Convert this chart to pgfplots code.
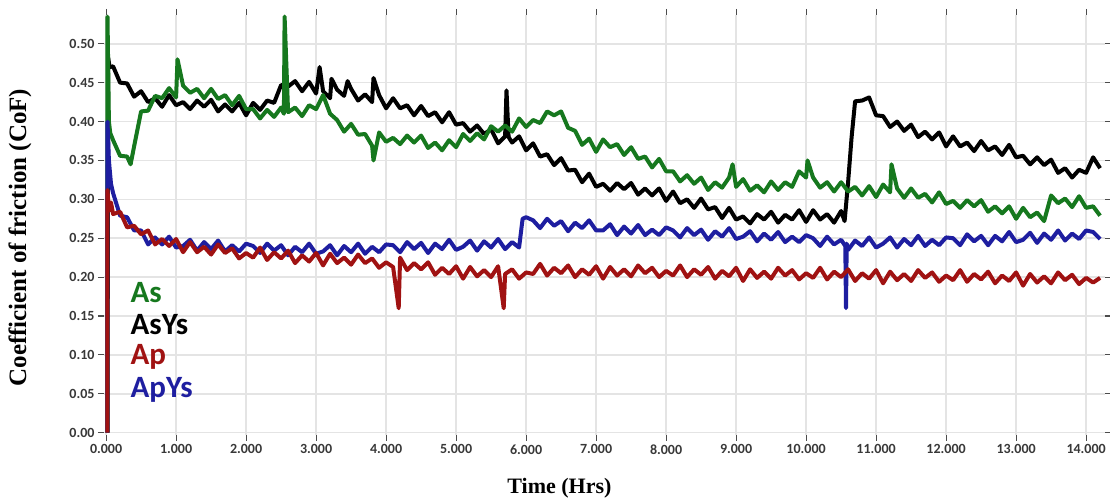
\documentclass[border=0pt]{standalone}
\usepackage{fontspec}
\setmainfont{Liberation Serif}
\newfontfamily\calibri{Carlito}
\usepackage{pgfplots}
\pgfplotsset{compat=1.18}

\definecolor{cAs}{RGB}{22,120,30}
\definecolor{cAsYs}{RGB}{0,0,0}
\definecolor{cAp}{RGB}{160,18,18}
\definecolor{cApYs}{RGB}{30,30,160}
\definecolor{gridc}{RGB}{228,228,228}

\begin{document}
\begin{tikzpicture}
\begin{axis}[
    scale only axis,
    width=1001pt, height=420pt,
    xmin=-0.03, xmax=14.27,
    ymin=-0.003, ymax=0.537,
    xtick={0,1,2,3,4,5,6,7,8,9,10,11,12,13,14},
    ytick={0,0.05,0.1,0.15,0.2,0.25,0.3,0.35,0.4,0.45,0.5},
    xticklabel style={/pgf/number format/.cd, fixed, fixed zerofill, precision=3},
    yticklabel style={/pgf/number format/.cd, fixed, fixed zerofill, precision=2},
    /pgf/number format/assume math mode=true,
    tick label style={font=\calibri\bfseries\fontsize{14}{16}\selectfont, text=black!78},
    grid=major,
    grid style={gridc, line width=1.6pt},
    axis line style={draw=none},
    tick align=outside,
    major tick length=6pt,
    tick style={black!70, line width=1.1pt},
    xlabel={Time (Hrs)},
    ylabel={Coefficient of friction (CoF)},
    xlabel style={font=\bfseries\fontsize{22}{24}\selectfont, at={(axis description cs:0.455,-0.126)}, anchor=center},
    ylabel style={font=\bfseries\fontsize{25}{28}\selectfont, at={(axis description cs:-0.084,0.47)}, anchor=center},
    every axis plot/.append style={line width=4pt, line join=round},
  ]
  \coordinate (sw) at (rel axis cs:0,0);
  \coordinate (ne) at (rel axis cs:1,1);

  % AsYs
  \addplot[cAsYs] coordinates {
    (0.02,0) (0.03,0.482) (0.05,0.470)
    (0.1,0.471) (0.2,0.450) (0.3,0.449) (0.4,0.432) (0.5,0.439) (0.6,0.425) (0.7,0.430) (0.8,0.419) (0.9,0.434) (1.0,0.421)
    (1.1,0.425) (1.2,0.416) (1.3,0.427) (1.4,0.419) (1.5,0.428) (1.6,0.413) (1.7,0.422) (1.8,0.413) (1.9,0.424) (2.0,0.408)
    (2.1,0.424) (2.2,0.415) (2.3,0.427) (2.4,0.424) (2.5,0.447) (2.6,0.445) (2.7,0.452) (2.8,0.439) (2.9,0.451) (3.0,0.436)
    (3.05,0.470) (3.1,0.439) (3.2,0.430) (3.22,0.455) (3.3,0.441) (3.4,0.433) (3.45,0.452) (3.5,0.442) (3.6,0.427) (3.7,0.435) (3.8,0.425) (3.82,0.456) (3.9,0.434) (4.0,0.417)
    (4.1,0.430) (4.2,0.417) (4.3,0.421) (4.4,0.408) (4.5,0.420) (4.6,0.407) (4.7,0.412) (4.8,0.399) (4.9,0.412) (5.0,0.396)
    (5.1,0.398) (5.2,0.387) (5.3,0.395) (5.4,0.384) (5.5,0.390) (5.6,0.372) (5.7,0.381) (5.72,0.440) (5.75,0.380) (5.8,0.373) (5.9,0.381) (6.0,0.363)
    (6.1,0.372) (6.2,0.355) (6.3,0.358) (6.4,0.344) (6.5,0.353) (6.6,0.337) (6.7,0.338) (6.8,0.322) (6.9,0.333) (7.0,0.316)
    (7.1,0.320) (7.2,0.311) (7.3,0.321) (7.4,0.313) (7.5,0.321) (7.6,0.306) (7.7,0.314) (7.8,0.305) (7.9,0.314) (8.0,0.298)
    (8.1,0.310) (8.2,0.295) (8.3,0.300) (8.4,0.289) (8.5,0.301) (8.6,0.287) (8.7,0.290) (8.8,0.276) (8.9,0.289) (9.0,0.274)
    (9.1,0.278) (9.2,0.269) (9.3,0.281) (9.4,0.274) (9.5,0.284) (9.6,0.270) (9.7,0.280) (9.8,0.274) (9.9,0.286) (10.0,0.271)
    (10.1,0.286) (10.2,0.274) (10.3,0.281) (10.4,0.270) (10.5,0.285) (10.55,0.272) (10.6,0.322) (10.65,0.380) (10.7,0.426) (10.8,0.427) (10.9,0.431) (11.0,0.408)
    (11.1,0.407) (11.2,0.393) (11.3,0.400) (11.4,0.388) (11.5,0.396) (11.6,0.380) (11.7,0.387) (11.8,0.377) (11.9,0.386) (12.0,0.368)
    (12.1,0.381) (12.2,0.368) (12.3,0.373) (12.4,0.362) (12.5,0.375) (12.6,0.363) (12.7,0.368) (12.8,0.357) (12.9,0.370) (13.0,0.354)
    (13.1,0.356) (13.2,0.345) (13.3,0.354) (13.4,0.344) (13.5,0.351) (13.6,0.334) (13.7,0.340) (13.8,0.328) (13.9,0.338) (14.0,0.334)
    (14.1,0.354) (14.2,0.340)
  };

  % As
  \addplot[cAs] coordinates {
    (0.02,0) (0.02,0.535) (0.04,0.400) (0.06,0.385)
    (0.1,0.376) (0.2,0.356) (0.3,0.355) (0.35,0.345) (0.4,0.368) (0.5,0.413) (0.6,0.414) (0.7,0.433) (0.8,0.430) (0.9,0.443) (1.0,0.431) (1.02,0.480)
    (1.1,0.446) (1.2,0.437) (1.3,0.442) (1.4,0.430) (1.5,0.442) (1.6,0.429) (1.7,0.434) (1.8,0.421) (1.9,0.433) (2.0,0.416)
    (2.1,0.416) (2.2,0.404) (2.3,0.415) (2.4,0.406) (2.5,0.418) (2.54,0.410) (2.55,0.535) (2.6,0.412) (2.7,0.418) (2.8,0.407) (2.9,0.421) (3.0,0.416)
    (3.1,0.434) (3.2,0.410) (3.3,0.402) (3.4,0.387) (3.5,0.397) (3.6,0.383) (3.7,0.384) (3.8,0.369) (3.82,0.350) (3.9,0.386) (4.0,0.374)
    (4.1,0.379) (4.2,0.371) (4.3,0.382) (4.4,0.373) (4.5,0.382) (4.6,0.366) (4.7,0.373) (4.8,0.363) (4.9,0.376) (5.0,0.367)
    (5.1,0.384) (5.2,0.375) (5.3,0.385) (5.4,0.377) (5.5,0.394) (5.6,0.387) (5.7,0.395) (5.8,0.387) (5.9,0.404) (6.0,0.393)
    (6.1,0.402) (6.2,0.398) (6.3,0.413) (6.4,0.408) (6.5,0.413) (6.6,0.392) (6.7,0.388) (6.8,0.370) (6.9,0.378) (7.0,0.361)
    (7.1,0.377) (7.2,0.367) (7.3,0.371) (7.4,0.357) (7.5,0.367) (7.6,0.352) (7.7,0.355) (7.8,0.341) (7.9,0.352) (8.0,0.336)
    (8.1,0.336) (8.2,0.323) (8.3,0.331) (8.4,0.320) (8.5,0.328) (8.6,0.312) (8.7,0.322) (8.8,0.315) (8.9,0.328) (8.95,0.345) (9.0,0.316)
    (9.1,0.326) (9.2,0.311) (9.3,0.318) (9.4,0.309) (9.5,0.323) (9.6,0.312) (9.7,0.322) (9.8,0.316) (9.9,0.336) (10.0,0.328) (10.02,0.350)
    (10.1,0.328) (10.2,0.315) (10.3,0.322) (10.4,0.310) (10.5,0.322) (10.6,0.310) (10.7,0.316) (10.8,0.305) (10.9,0.317) (11.0,0.303)
    (11.1,0.319) (11.2,0.309) (11.22,0.345) (11.3,0.314) (11.4,0.302) (11.5,0.314) (11.6,0.302) (11.7,0.307) (11.8,0.296) (11.9,0.309) (12.0,0.294)
    (12.1,0.298) (12.2,0.289) (12.3,0.299) (12.4,0.291) (12.5,0.299) (12.6,0.284) (12.7,0.291) (12.8,0.282) (12.9,0.291) (13.0,0.275)
    (13.1,0.289) (13.2,0.277) (13.3,0.283) (13.4,0.272) (13.5,0.305) (13.6,0.295) (13.7,0.301) (13.8,0.290) (13.9,0.304) (14.0,0.289)
    (14.1,0.291) (14.2,0.279)
  };

  % ApYs
  \addplot[cApYs] coordinates {
    (0.02,0) (0.02,0.400) (0.04,0.350) (0.07,0.320)
    (0.1,0.308) (0.2,0.279) (0.3,0.277) (0.4,0.260) (0.5,0.260) (0.6,0.242) (0.7,0.251) (0.8,0.242) (0.9,0.252) (1.0,0.238)
    (1.1,0.240) (1.2,0.248) (1.3,0.234) (1.4,0.245) (1.5,0.236) (1.6,0.247) (1.7,0.233) (1.8,0.241) (1.9,0.233) (2.0,0.243)
    (2.1,0.240) (2.2,0.231) (2.3,0.243) (2.4,0.234) (2.5,0.241) (2.6,0.228) (2.7,0.239) (2.8,0.232) (2.9,0.243) (3.0,0.230)
    (3.1,0.233) (3.2,0.241) (3.3,0.228) (3.4,0.240) (3.5,0.232) (3.6,0.243) (3.7,0.230) (3.8,0.239) (3.9,0.232) (4.0,0.242)
    (4.1,0.241) (4.2,0.232) (4.3,0.245) (4.4,0.236) (4.5,0.244) (4.6,0.231) (4.7,0.243) (4.8,0.236) (4.9,0.248) (5.0,0.235)
    (5.1,0.239) (5.2,0.247) (5.3,0.234) (5.4,0.246) (5.5,0.238) (5.6,0.249) (5.7,0.236) (5.8,0.245) (5.9,0.238) (5.95,0.275) (6.0,0.277)
    (6.1,0.273) (6.2,0.263) (6.3,0.275) (6.4,0.266) (6.5,0.272) (6.6,0.259) (6.7,0.270) (6.8,0.263) (6.9,0.273) (7.0,0.260)
    (7.1,0.260) (7.2,0.268) (7.3,0.254) (7.4,0.265) (7.5,0.256) (7.6,0.267) (7.7,0.254) (7.8,0.261) (7.9,0.254) (8.0,0.264)
    (8.1,0.260) (8.2,0.251) (8.3,0.263) (8.4,0.254) (8.5,0.261) (8.6,0.248) (8.7,0.259) (8.8,0.252) (8.9,0.263) (9.0,0.249)
    (9.1,0.252) (9.2,0.259) (9.3,0.246) (9.4,0.256) (9.5,0.248) (9.6,0.258) (9.7,0.245) (9.8,0.252) (9.9,0.245) (10.0,0.254)
    (10.1,0.250) (10.2,0.240) (10.3,0.252) (10.4,0.242) (10.5,0.248) (10.56,0.240) (10.57,0.160) (10.58,0.243) (10.6,0.235) (10.7,0.247) (10.8,0.240) (10.9,0.251) (11.0,0.238)
    (11.1,0.243) (11.2,0.251) (11.3,0.238) (11.4,0.249) (11.5,0.241) (11.6,0.253) (11.7,0.240) (11.8,0.248) (11.9,0.241) (12.0,0.251)
    (12.1,0.250) (12.2,0.241) (12.3,0.255) (12.4,0.246) (12.5,0.253) (12.6,0.241) (12.7,0.253) (12.8,0.246) (12.9,0.258) (13.0,0.245)
    (13.1,0.248) (13.2,0.257) (13.3,0.244) (13.4,0.256) (13.5,0.248) (13.6,0.260) (13.7,0.247) (13.8,0.256) (13.9,0.249) (14.0,0.260)
    (14.1,0.258) (14.2,0.249)
  };

  % Ap
  \addplot[cAp] coordinates {
    (0.02,0) (0.02,0.312) (0.04,0.285) (0.07,0.296)
    (0.1,0.281) (0.2,0.284) (0.3,0.264) (0.4,0.266) (0.5,0.255) (0.6,0.260) (0.7,0.242) (0.8,0.249) (0.9,0.240) (1.0,0.249)
    (1.1,0.232) (1.2,0.245) (1.3,0.232) (1.4,0.239) (1.5,0.229) (1.6,0.242) (1.7,0.231) (1.8,0.237) (1.9,0.224) (2.0,0.231)
    (2.1,0.225) (2.2,0.238) (2.3,0.222) (2.4,0.232) (2.5,0.224) (2.6,0.234) (2.7,0.218) (2.8,0.228) (2.9,0.220) (3.0,0.231)
    (3.1,0.215) (3.2,0.230) (3.3,0.218) (3.4,0.225) (3.5,0.216) (3.6,0.229) (3.7,0.218) (3.8,0.224) (3.9,0.212) (4.0,0.219)
    (4.1,0.213) (4.18,0.160) (4.2,0.225) (4.3,0.209) (4.4,0.218) (4.5,0.210) (4.6,0.219) (4.7,0.203) (4.8,0.212) (4.9,0.204) (5.0,0.214)
    (5.1,0.198) (5.2,0.213) (5.3,0.201) (5.4,0.209) (5.5,0.200) (5.6,0.214) (5.68,0.160) (5.7,0.204) (5.8,0.210) (5.9,0.198) (6.0,0.206)
    (6.1,0.204) (6.2,0.217) (6.3,0.202) (6.4,0.212) (6.5,0.205) (6.6,0.215) (6.7,0.200) (6.8,0.210) (6.9,0.203) (7.0,0.214)
    (7.1,0.198) (7.2,0.213) (7.3,0.202) (7.4,0.210) (7.5,0.201) (7.6,0.215) (7.7,0.205) (7.8,0.212) (7.9,0.200) (8.0,0.208)
    (8.1,0.202) (8.2,0.215) (8.3,0.200) (8.4,0.210) (8.5,0.203) (8.6,0.213) (8.7,0.198) (8.8,0.208) (8.9,0.201) (9.0,0.212)
    (9.1,0.195) (9.2,0.210) (9.3,0.199) (9.4,0.207) (9.5,0.198) (9.6,0.212) (9.7,0.202) (9.8,0.209) (9.9,0.197) (10.0,0.205)
    (10.1,0.199) (10.2,0.212) (10.3,0.197) (10.4,0.207) (10.5,0.200) (10.6,0.210) (10.7,0.195) (10.8,0.205) (10.9,0.198) (11.0,0.209)
    (11.1,0.192) (11.2,0.207) (11.3,0.196) (11.4,0.204) (11.5,0.195) (11.6,0.209) (11.7,0.199) (11.8,0.206) (11.9,0.194) (12.0,0.202)
    (12.1,0.196) (12.2,0.209) (12.3,0.194) (12.4,0.204) (12.5,0.197) (12.6,0.207) (12.7,0.192) (12.8,0.202) (12.9,0.195) (13.0,0.206)
    (13.1,0.189) (13.2,0.204) (13.3,0.193) (13.4,0.201) (13.5,0.192) (13.6,0.206) (13.7,0.196) (13.8,0.203) (13.9,0.191) (14.0,0.199)
    (14.1,0.193) (14.2,0.199)
  };

  % series names written in the plot, as in the original
  \node[anchor=base west, text=cAs, font=\calibri\bfseries\fontsize{31}{33}\selectfont] at (axis cs:0.30,0.167) {As};
  \node[anchor=base west, text=cAsYs, font=\calibri\bfseries\fontsize{31}{33}\selectfont] at (axis cs:0.30,0.126) {AsYs};
  \node[anchor=base west, text=cAp, font=\calibri\bfseries\fontsize{31}{33}\selectfont] at (axis cs:0.30,0.087) {Ap};
  \node[anchor=base west, text=cApYs, font=\calibri\bfseries\fontsize{31}{33}\selectfont] at (axis cs:0.30,0.045) {ApYs};
\end{axis}
\pgfresetboundingbox
\path ([shift={(-104pt,-64pt)}]sw) rectangle ([shift={(5pt,15pt)}]ne);
\end{tikzpicture}
\end{document}
